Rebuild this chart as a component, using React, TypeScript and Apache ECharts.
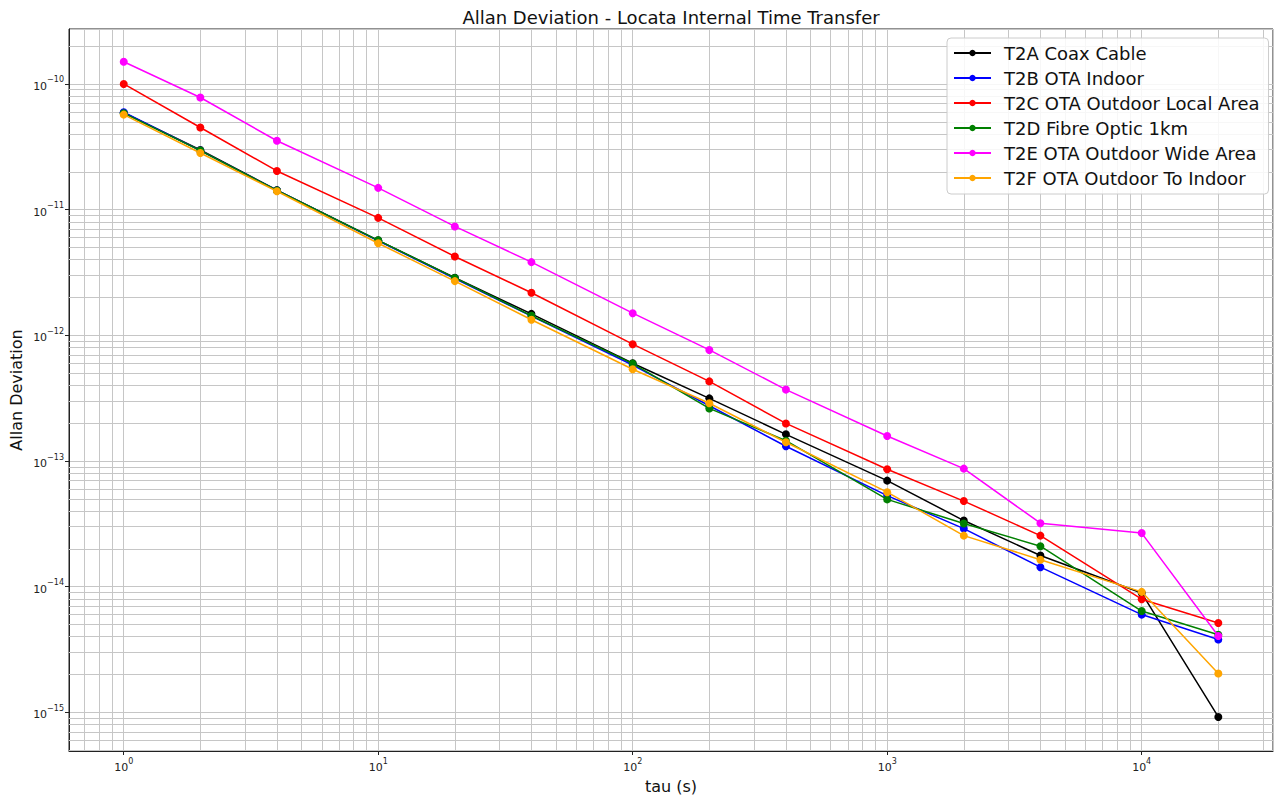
import React, { useEffect, useRef } from "react";
import * as echarts from "echarts";

const tau = [1, 2, 4, 10, 20, 40, 100, 200, 400, 1000, 2000, 4000, 10000, 20000];

const seriesNames = [
  "T2A Coax Cable",
  "T2B OTA Indoor",
  "T2C OTA Outdoor Local Area",
  "T2D Fibre Optic 1km",
  "T2E OTA Outdoor Wide Area",
  "T2F OTA Outdoor To Indoor",
];

const seriesColors = ["#000000", "#0000ff", "#ff0000", "#008000", "#ff00ff", "#ffa500"];

const t2a = [5.9e-11, 2.98e-11, 1.43e-11, 5.7e-12, 2.87e-12, 1.48e-12, 6.0e-13, 3.15e-13, 1.63e-13, 6.98e-14, 3.36e-14, 1.77e-14, 8.9e-15, 9.2e-16];
const t2b = [5.95e-11, 2.95e-11, 1.42e-11, 5.65e-12, 2.83e-12, 1.42e-12, 5.8e-13, 2.75e-13, 1.31e-13, 5.3e-14, 2.9e-14, 1.43e-14, 6.0e-15, 3.8e-15];
const t2c = [1.0e-10, 4.5e-11, 2.03e-11, 8.6e-12, 4.24e-12, 2.18e-12, 8.5e-13, 4.3e-13, 1.99e-13, 8.6e-14, 4.8e-14, 2.55e-14, 7.95e-15, 5.15e-15];
const t2d = [5.85e-11, 2.95e-11, 1.42e-11, 5.7e-12, 2.86e-12, 1.43e-12, 5.95e-13, 2.62e-13, 1.45e-13, 4.95e-14, 3.18e-14, 2.1e-14, 6.4e-15, 4.15e-15];
const t2e = [1.5e-10, 7.8e-11, 3.53e-11, 1.49e-11, 7.35e-12, 3.82e-12, 1.5e-12, 7.65e-13, 3.7e-13, 1.58e-13, 8.7e-14, 3.2e-14, 2.67e-14, 4.05e-15];
const t2f = [5.7e-11, 2.82e-11, 1.4e-11, 5.4e-12, 2.7e-12, 1.33e-12, 5.37e-13, 2.88e-13, 1.41e-13, 5.65e-14, 2.55e-14, 1.64e-14, 9.1e-15, 2.04e-15];

const allValues = [t2a, t2b, t2c, t2d, t2e, t2f];

const X_MIN = 0.6095;
const X_MAX = 32810;
const Y_MIN = 4.93e-16;
const Y_MAX = 2.735e-10;

const FONT = "DejaVu Sans";
const GRID_COLOR = "#c6c6c6";

function minorValues(lo: number, hi: number): number[] {
  const out: number[] = [];
  const e0 = Math.floor(Math.log10(lo));
  const e1 = Math.ceil(Math.log10(hi));
  for (let e = e0; e <= e1; e++) {
    for (let k = 2; k <= 9; k++) {
      const v = k * Math.pow(10, e);
      if (v > lo && v < hi) out.push(v);
    }
  }
  return out;
}

function powLabel(v: number): string {
  const e = Math.round(Math.log10(v));
  const s = e < 0 ? "\u2212" + Math.abs(e) : String(e);
  return "{b|10}{s|" + s + "}";
}

const richLabel = {
  b: { fontSize: 11, fontFamily: FONT, color: "#222", lineHeight: 16, verticalAlign: "bottom" },
  s: { fontSize: 8, fontFamily: FONT, color: "#222", lineHeight: 10, verticalAlign: "top" },
};

export default function App() {
  const ref = useRef<HTMLDivElement>(null);
  useEffect(() => {
    if (!ref.current) return;
    const chart = echarts.init(ref.current, undefined, { renderer: "svg" });

    const lineSeries = seriesNames.map((name, i) => ({
      name,
      type: "line",
      data: tau.map((t, j) => [t, allValues[i][j]]),
      symbol: "circle",
      symbolSize: 8,
      showSymbol: true,
      lineStyle: { width: 1.5, color: seriesColors[i] },
      itemStyle: { color: seriesColors[i] },
      z: 3 + i,
    }));

    const markLineBase = {
      silent: true,
      symbol: ["none", "none"],
      precision: 20,
      z: 1,
      label: { show: false },
      lineStyle: { color: GRID_COLOR, type: "solid", width: 1 },
      animation: false,
    };

    const gridSeriesX = {
      name: "__gridx",
      type: "line",
      data: [],
      silent: true,
      z: 1,
      markLine: { ...markLineBase, data: minorValues(X_MIN, X_MAX).map((v) => ({ xAxis: v })) },
    };
    const gridSeriesY = {
      name: "__gridy",
      type: "line",
      data: [],
      silent: true,
      z: 1,
      markLine: { ...markLineBase, data: minorValues(Y_MIN, Y_MAX).map((v) => ({ yAxis: v })) },
    };

    chart.setOption({
      animation: false,
      textStyle: { fontFamily: FONT },
      grid: {
        left: 69,
        top: 29,
        right: 6,
        bottom: 47,
        show: true,
        borderColor: "#222",
        borderWidth: 1,
        backgroundColor: "transparent",
      },
      legend: {
        data: seriesNames,
        z: 20,
        orient: "vertical",
        left: 947,
        top: 38,
        padding: [5, 9, 6, 6],
        itemWidth: 37,
        itemHeight: 8,
        itemGap: 5,
        backgroundColor: "rgba(255,255,255,0.85)",
        borderColor: "#cccccc",
        borderWidth: 1,
        borderRadius: 4,
        textStyle: { fontSize: 18, fontFamily: FONT, color: "#111", lineHeight: 20, padding: [0, 0, 0, 8] },
      },
      xAxis: {
        type: "log",
        logBase: 10,
        min: X_MIN,
        max: X_MAX,
        axisLine: { show: true, lineStyle: { color: "#222", width: 1 } },
        axisTick: { show: true, length: 4, lineStyle: { color: "#222" } },
        axisLabel: {
          show: true,
          showMinLabel: false,
          showMaxLabel: false,
          margin: 6,
          formatter: (v: number) => powLabel(v),
          rich: richLabel,
        },
        splitLine: { show: true, lineStyle: { color: GRID_COLOR, width: 1 } },
      },
      yAxis: {
        type: "log",
        logBase: 10,
        min: Y_MIN,
        max: Y_MAX,
        axisLine: { show: true, lineStyle: { color: "#222", width: 1 } },
        axisTick: { show: true, length: 4, lineStyle: { color: "#222" } },
        axisLabel: {
          show: true,
          showMinLabel: false,
          showMaxLabel: false,
          margin: 5,
          formatter: (v: number) => powLabel(v),
          rich: richLabel,
        },
        splitLine: { show: true, lineStyle: { color: GRID_COLOR, width: 1 } },
      },
      graphic: [
        {
          type: "text",
          x: 671,
          y: 17,
          style: {
            text: "Allan Deviation - Locata Internal Time Transfer",
            fontSize: 18,
            fontFamily: FONT,
            fill: "#111",
            align: "center",
            verticalAlign: "middle",
          },
        },
        {
          type: "text",
          x: 671,
          y: 786,
          style: {
            text: "tau (s)",
            fontSize: 16,
            fontFamily: FONT,
            fill: "#111",
            align: "center",
            verticalAlign: "middle",
          },
        },
        {
          type: "text",
          x: 16,
          y: 390,
          rotation: Math.PI / 2,
          style: {
            text: "Allan Deviation",
            fontSize: 16,
            fontFamily: FONT,
            fill: "#111",
            align: "center",
            verticalAlign: "middle",
          },
        },
      ],
      series: [gridSeriesX, gridSeriesY, ...lineSeries],
    });

    return () => chart.dispose();
  }, []);

  return (
    <div
      ref={ref}
      style={{ position: "fixed", left: 0, top: 0, width: 1279, height: 798, background: "#fff" }}
    />
  );
}
